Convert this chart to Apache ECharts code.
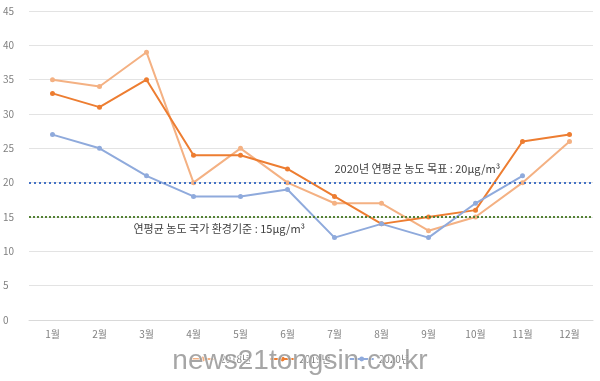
<!DOCTYPE html>
<html><head><meta charset="utf-8">
<script src="https://cdn.jsdelivr.net/npm/echarts@6/dist/echarts.min.js"></script>
<style>html,body{margin:0;padding:0;background:#fff}#c{width:600px;height:381px}</style>
</head><body><div id="c"></div>
<script>
var categories = ['1월','2월','3월','4월','5월','6월','7월','8월','9월','10월','11월','12월'];
var s2018 = [35, 34, 39, 20, 25, 20, 17, 17, 13, 15, 20, 26];
var s2019 = [33, 31, 35, 24, 24, 22, 18, 14, 15, 16, 26, 27];
var s2020 = [27, 25, 21, 18, 18, 19, 12, 14, 12, 17, 21, null];
var seriesNames = ['2018년', '2019년', '2020년'];
var targetValue = 20, standardValue = 15;
var targetLabel = '2020년 연평균 농도 목표 : 20μg/m³';
var standardLabel = '연평균 농도 국가 환경기준 : 15μg/m³';
var yTicks = {min: 0, max: 45, interval: 5};

var chart = echarts.init(document.getElementById('c'));
var font = '"Noto Sans CJK KR", "Noto Sans", sans-serif';
function ser(name, data, color, extra) {
  var s = {name: name, type: 'line', data: data, symbol: 'circle', symbolSize: 5,
    lineStyle: {color: color, width: 2}, itemStyle: {color: color}, z: 3};
  if (extra) s.markLine = extra;
  return s;
}
var ml = {silent: true, symbol: 'none', label: {show: false},
  data: [
    {yAxis: targetValue, lineStyle: {color: '#4472C4', type: [2, 3], width: 2.2}},
    {yAxis: standardValue, lineStyle: {color: '#548235', type: [2, 2], width: 2.2}}
  ]};
chart.setOption({
  animation: false,
  textStyle: {fontFamily: font},
  grid: {left: 25, right: 7, top: 11, bottom: 61},
  xAxis: {type: 'category', data: categories, boundaryGap: true,
    axisLine: {show: true, lineStyle: {color: '#d9d9d9', width: 1}}, axisTick: {show: false},
    axisLabel: {color: '#808080', fontSize: 10, margin: 9, fontFamily: font}},
  yAxis: {type: 'value', min: yTicks.min, max: yTicks.max, interval: yTicks.interval,
    axisLabel: {color: '#808080', fontSize: 10, margin: 9, align: 'left', padding: [0,0,0,-17], fontFamily: font},
    splitLine: {lineStyle: {color: '#e3e3e3', width: 1}}, axisLine: {show: false}},
  legend: {bottom: 12, left: 'center', itemWidth: 24, itemHeight: 6, itemGap: 18,
    textStyle: {color: '#808080', fontSize: 10},
    data: seriesNames},
  series: [
    ser(seriesNames[0], s2018, '#F4B183', ml),
    ser(seriesNames[1], s2019, '#ED7D31'),
    ser(seriesNames[2], s2020, '#8FAADC')
  ]
});
var p20 = chart.convertToPixel({gridIndex: 0}, [categories[7], targetValue]);
var p15 = chart.convertToPixel({gridIndex: 0}, [categories[3], standardValue]);
chart.setOption({graphic: [
  {type: 'text', left: p20[0] - 47, top: p20[1] - 19, z: 10,
    style: {text: targetLabel, fill: '#404040', font: '11px ' + font}},
  {type: 'text', left: p15[0] - 60, top: p15[1] + 6, z: 10,
    style: {text: standardLabel, fill: '#404040', font: '11px ' + font}},
  {type: 'text', left: 'center', top: 347, z: 20,
    style: {text: 'news21tongsin.co.kr', fill: 'rgba(150,150,150,0.85)', stroke: '#ffffff', lineWidth: 1,
      font: '28px "Liberation Sans", Arial, sans-serif'}}
]});
</script></body></html>
